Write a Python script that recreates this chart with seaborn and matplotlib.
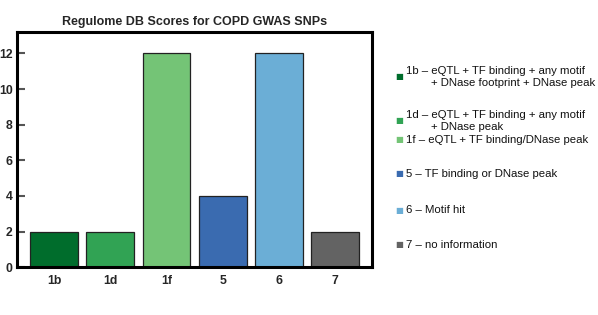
import pandas as pd
import numpy as np
import matplotlib
matplotlib.use("Agg")
import matplotlib.pyplot as plt
import seaborn as sns

# Data
scores = ['1b', '1d', '1f', '5', '6', '7']
snp_counts = [2, 2, 12, 4, 12, 2]
bar_colors = ['#006d2c', '#31a354', '#74c476', '#3a6bb0', '#6baed6', '#636363']
legend_labels = [
    '1b \u2013 eQTL + TF binding + any motif\n        + DNase footprint + DNase peak',
    '1d \u2013 eQTL + TF binding + any motif\n        + DNase peak',
    '1f \u2013 eQTL + TF binding/DNase peak',
    '5 \u2013 TF binding or DNase peak',
    '6 \u2013 Motif hit',
    '7 \u2013 no information',
]

df = pd.DataFrame({'score': scores, 'count': snp_counts})

sns.set_style("white")
plt.rcParams['font.family'] = ['Liberation Sans', 'DejaVu Sans']

fig = plt.figure(figsize=(5.98, 3.15), dpi=100)
ax = fig.add_axes([0.0284, 0.152, 0.594, 0.746])

sns.barplot(ax=ax, data=df, x='score', y='count', hue='score',
            palette=bar_colors, legend=False, width=0.85,
            edgecolor='#222222', linewidth=0.9, saturation=1)

ax.set_xlim(-0.66, 5.66)
ax.set_ylim(0, 13.2)
ax.set_yticks([0, 2, 4, 6, 8, 10, 12])
ax.set_xlabel('')
ax.set_ylabel('')
ax.set_title('Regulome DB Scores for COPD GWAS SNPs', fontsize=9,
             weight='bold', pad=5)

for sp in ax.spines.values():
    sp.set_visible(True)
    sp.set_color('black')
    sp.set_linewidth(2.2)

ax.tick_params(axis='y', direction='in', length=6, width=1.5, color='#555555',
               labelsize=8.8, pad=3, left=True)
ax.tick_params(axis='x', length=0, labelsize=8.8, pad=6)
for lbl in ax.get_xticklabels() + ax.get_yticklabels():
    lbl.set_fontweight('bold')

# Legend drawn as text entries to the right of the axes
legend_y = [0.757, 0.616, 0.556, 0.448, 0.333, 0.223]
for lab, col, yy in zip(legend_labels, bar_colors, legend_y):
    fig.text(0.661, yy, '\u25a0', color=col, fontsize=6,
             ha='left', va='center', family=['DejaVu Sans'])
    fig.text(0.679, yy, lab, fontsize=8.2, color='#111111',
             ha='left', va='center', linespacing=1.25)

plt.savefig('out.png', dpi=100)
